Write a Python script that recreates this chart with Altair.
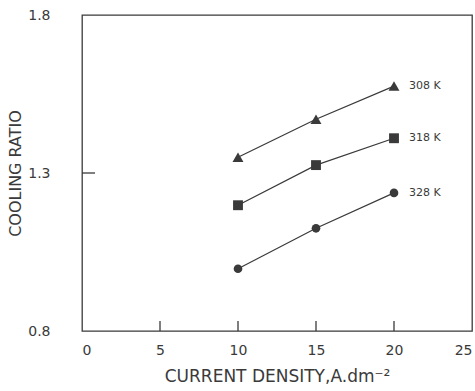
import altair as alt
import pandas as pd

density = [10, 15, 20]
r308 = [1.35, 1.47, 1.575]
r318 = [1.198, 1.325, 1.41]
r328 = [0.997, 1.125, 1.237]
series = ["308 K", "318 K", "328 K"]
x_ticks = [0, 5, 10, 15, 20, 25]
y_ticks = [0.8, 1.3, 1.8]
inner_x_ticks = [5, 10, 15, 20]
inner_y_ticks = [1.3]

rows = []
for name, vals in zip(series, [r308, r318, r328]):
    for d, v in zip(density, vals):
        rows.append({"density": d, "ratio": v, "series": name})
df = pd.DataFrame(rows)
last = df[df["density"] == max(density)]

INK = "#3a3a3a"
FONT = "DejaVu Sans"
W, H = 390, 316

xs = alt.Scale(domain=[0, 25], nice=False)
ys = alt.Scale(domain=[0.8, 1.8], nice=False)
shape_scale = alt.Scale(domain=series, range=["triangle-up", "square", "circle"])
size_scale = alt.Scale(domain=series, range=[120, 75, 100])

base = alt.Chart(df)

lines = base.mark_line(color=INK, strokeWidth=1.2).encode(
    x=alt.X("density:Q", scale=xs,
            axis=alt.Axis(values=x_ticks, title="CURRENT DENSITY,A.dm⁻²", tickSize=0,
                          labelPadding=12, titlePadding=11, grid=False, domain=False,
                          labelFontSize=14, titleFontSize=17, labelFont=FONT, titleFont=FONT,
                          labelColor=INK, titleColor=INK, titleFontWeight="normal")),
    y=alt.Y("ratio:Q", scale=ys,
            axis=alt.Axis(values=y_ticks, title="COOLING RATIO", tickSize=0, format=".1f",
                          labelPadding=32, titlePadding=4, grid=False, domain=False,
                          labelFontSize=14, titleFontSize=16, labelFont=FONT, titleFont=FONT,
                          labelColor=INK, titleColor=INK, titleFontWeight="normal")),
    detail="series:N",
)

points = base.mark_point(filled=True, color=INK, opacity=1).encode(
    x=alt.X("density:Q", scale=xs),
    y=alt.Y("ratio:Q", scale=ys),
    shape=alt.Shape("series:N", scale=shape_scale, legend=None),
    size=alt.Size("series:N", scale=size_scale, legend=None),
)

labels = alt.Chart(last).mark_text(align="left", dx=15, fontSize=11, font=FONT, color=INK).encode(
    x=alt.X("density:Q", scale=xs),
    y=alt.Y("ratio:Q", scale=ys),
    text="series:N",
)

# inward tick marks
xt = alt.Chart(pd.DataFrame({"t": inner_x_ticks})).mark_rule(color=INK, strokeWidth=1.3).encode(
    x=alt.X("t:Q", scale=xs),
    y=alt.value(H),
    y2=alt.value(H - 10),
)
yt = alt.Chart(pd.DataFrame({"v": inner_y_ticks})).mark_rule(color=INK, strokeWidth=1.3).encode(
    y=alt.Y("v:Q", scale=ys),
    x=alt.value(0),
    x2=alt.value(13),
)

chart = alt.layer(lines, points, labels, xt, yt).properties(
    width=W, height=H,
    background="white",
    padding={"left": 82, "top": 15, "right": 3, "bottom": 60},
    autosize=alt.AutoSizeParams(type="none"),
).configure_view(stroke=INK, strokeWidth=1.3)

chart.save("out.html", embed_options={"renderer": "svg", "actions": False})
